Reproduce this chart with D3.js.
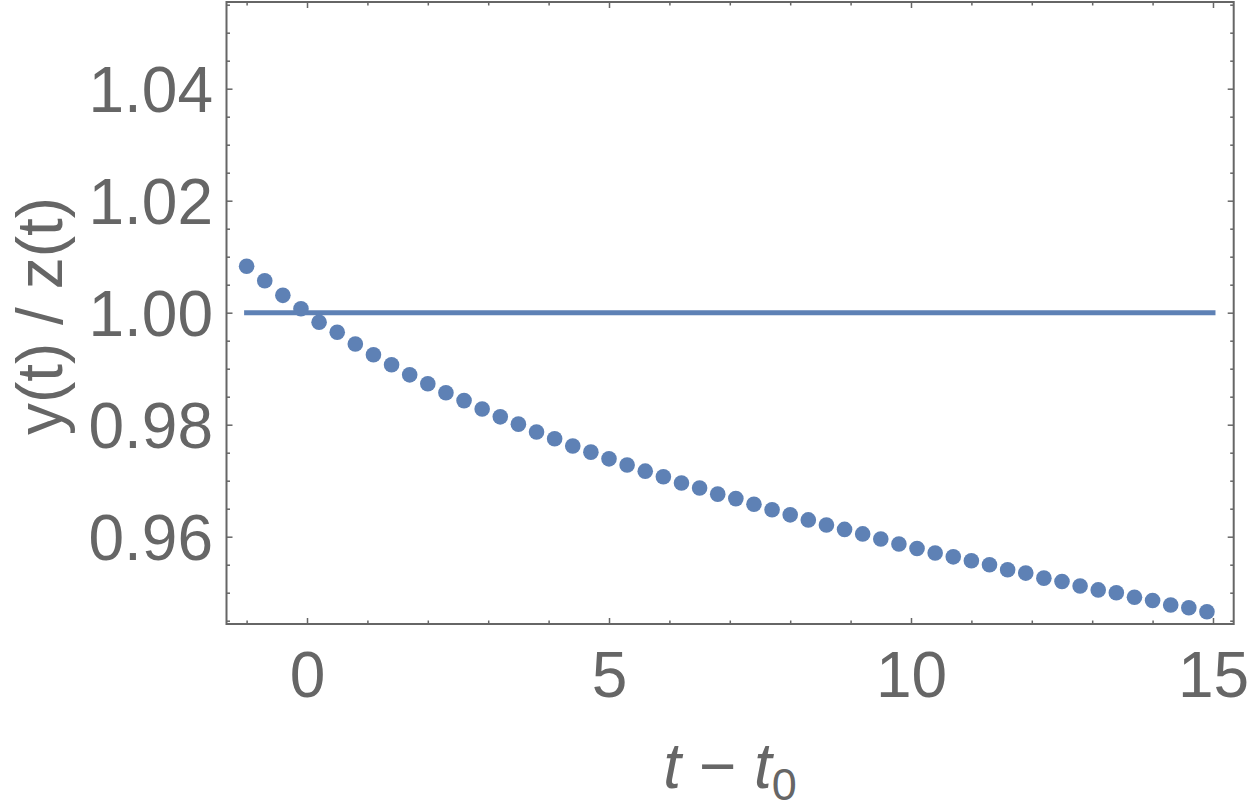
<!DOCTYPE html>
<html>
<head>
<meta charset="UTF-8">
<title>y(t) / z(t)</title>
<style>
  html, body { margin: 0; padding: 0; background: #ffffff; }
  #canvas { width: 1250px; height: 809px; }
  text { font-family: "Liberation Sans", Arial, sans-serif; fill: #666666; }
  .tick line { stroke: #666666; }
</style>
<script src="https://cdn.jsdelivr.net/npm/d3@7"></script>
</head>
<body>
<div id="canvas"></div>
<script>
// sample times (t - t0)
var tValues = [
  -1.0, -0.7, -0.4, -0.1, 0.2, 0.5, 0.8, 1.1, 1.4, 1.7,
  2.0, 2.3, 2.6, 2.9, 3.2, 3.5, 3.8, 4.1, 4.4, 4.7,
  5.0, 5.3, 5.6, 5.9, 6.2, 6.5, 6.8, 7.1, 7.4, 7.7,
  8.0, 8.3, 8.6, 8.9, 9.2, 9.5, 9.8, 10.1, 10.4, 10.7,
  11.0, 11.3, 11.6, 11.9, 12.2, 12.5, 12.8, 13.1, 13.4, 13.7,
  14.0, 14.3, 14.6, 14.9
];

// ratio y(t)/z(t)
var ratioValues = [
  1.0083, 1.0057, 1.0031, 1.0007, 0.9983, 0.9965, 0.9944, 0.9925, 0.9907, 0.9889,
  0.9873, 0.9857, 0.9843, 0.9828, 0.9814, 0.9801, 0.9787, 0.9775, 0.9762, 0.9751,
  0.9739, 0.9728, 0.9717, 0.9707, 0.9696, 0.9687, 0.9676, 0.9668, 0.9658, 0.9648,
  0.9639, 0.9630, 0.9621, 0.9613, 0.9605, 0.9596, 0.9587, 0.9579, 0.9571, 0.9564,
  0.9557, 0.9550, 0.9541, 0.9535, 0.9526, 0.9520, 0.9512, 0.9505, 0.9500, 0.9492,
  0.9486, 0.9478, 0.9473, 0.9466
];

// reference line y(t)/z(t) = 1
var refT = [-1, 15];
var refValue = 1.0;

// ticks
var xMajorTicks = [0, 5, 10, 15];
var xMinorTicks = [-1, 1, 2, 3, 4, 6, 7, 8, 9, 11, 12, 13, 14];
var yMajorTicks = [0.96, 0.98, 1.00, 1.02, 1.04];
var yTickLabels = ["0.96", "0.98", "1.00", "1.02", "1.04"];
var yMinorTicks = [0.945, 0.95, 0.955, 0.965, 0.97, 0.975, 0.985, 0.99, 0.995,
                   1.005, 1.01, 1.015, 1.025, 1.03, 1.035, 1.045, 1.05, 1.055];

var xLabel = "t − t";
var yLabel = "y(t) / z(t)";

var width = 1250, height = 809;
var frame = {left: 226.5, right: 1233.7, top: 2, bottom: 624};
var color = "#5e81b5";
var gray = "#666666";

var x = d3.scaleLinear().domain([-1.333, 15.343]).range([frame.left, frame.right]);
var y = d3.scaleLinear().domain([0.94441, 1.05548]).range([frame.bottom, frame.top]);

var svg = d3.select("#canvas").append("svg")
  .attr("width", width)
  .attr("height", height);

// axes (ticks point inward)
function cleanAxis(g) {
  g.select(".domain").remove();
  g.selectAll(".tick line").attr("stroke", gray).attr("stroke-width", 1.5);
}

var fontSize = 64;

svg.append("g")
  .attr("transform", "translate(0," + frame.bottom + ")")
  .call(d3.axisBottom(x).tickValues(xMajorTicks).tickSizeInner(-6).tickSizeOuter(0)
    .tickPadding(27.5).tickFormat(d3.format("d")))
  .call(cleanAxis)
  .selectAll("text").attr("font-size", fontSize).attr("fill", gray)
  .attr("font-family", "Liberation Sans, Arial, sans-serif");

svg.append("g")
  .attr("transform", "translate(0," + frame.bottom + ")")
  .call(d3.axisBottom(x).tickValues(xMinorTicks).tickSizeInner(-3.5).tickSizeOuter(0).tickFormat(""))
  .call(cleanAxis);

svg.append("g")
  .attr("transform", "translate(0," + frame.top + ")")
  .call(d3.axisTop(x).tickValues(xMajorTicks).tickSizeInner(-6).tickSizeOuter(0).tickFormat(""))
  .call(cleanAxis);

svg.append("g")
  .attr("transform", "translate(0," + frame.top + ")")
  .call(d3.axisTop(x).tickValues(xMinorTicks).tickSizeInner(-3.5).tickSizeOuter(0).tickFormat(""))
  .call(cleanAxis);

svg.append("g")
  .attr("transform", "translate(" + frame.left + ",0)")
  .call(d3.axisLeft(y).tickValues(yMajorTicks).tickSizeInner(-6).tickSizeOuter(0)
    .tickPadding(13.5).tickFormat(function(d, i) { return yTickLabels[i]; }))
  .call(cleanAxis)
  .selectAll("text").attr("font-size", fontSize).attr("fill", gray).attr("dy", "0.36em")
  .attr("font-family", "Liberation Sans, Arial, sans-serif");

svg.append("g")
  .attr("transform", "translate(" + frame.left + ",0)")
  .call(d3.axisLeft(y).tickValues(yMinorTicks).tickSizeInner(-3.5).tickSizeOuter(0).tickFormat(""))
  .call(cleanAxis);

svg.append("g")
  .attr("transform", "translate(" + frame.right + ",0)")
  .call(d3.axisRight(y).tickValues(yMajorTicks).tickSizeInner(-6).tickSizeOuter(0).tickFormat(""))
  .call(cleanAxis);

svg.append("g")
  .attr("transform", "translate(" + frame.right + ",0)")
  .call(d3.axisRight(y).tickValues(yMinorTicks).tickSizeInner(-3.5).tickSizeOuter(0).tickFormat(""))
  .call(cleanAxis);

// frame
svg.append("rect")
  .attr("x", frame.left)
  .attr("y", frame.top)
  .attr("width", frame.right - frame.left)
  .attr("height", frame.bottom - frame.top)
  .attr("fill", "none")
  .attr("stroke", gray)
  .attr("stroke-width", 2);

// reference line
svg.append("path")
  .datum(refT)
  .attr("fill", "none")
  .attr("stroke", color)
  .attr("stroke-width", 5)
  .attr("stroke-linecap", "square")
  .attr("d", d3.line().x(function(d) { return x(d); }).y(function() { return y(refValue); }));

// points
svg.selectAll(".pt")
  .data(tValues)
  .enter().append("circle")
  .attr("class", "pt")
  .attr("cx", function(d) { return x(d); })
  .attr("cy", function(d, i) { return y(ratioValues[i]); })
  .attr("r", 7.8)
  .attr("fill", color);

// axis titles
var xt = svg.append("text")
  .attr("x", (frame.left + frame.right) / 2)
  .attr("y", 788)
  .attr("text-anchor", "middle")
  .attr("font-size", fontSize);
xt.append("tspan").attr("font-style", "italic").text("t");
xt.append("tspan").text(" − ");
xt.append("tspan").attr("font-style", "italic").text("t");
xt.append("tspan").attr("font-size", 45).attr("dy", 12).text("0");

svg.append("text")
  .attr("transform", "translate(62," + 316 + ") rotate(-90)")
  .attr("text-anchor", "middle")
  .attr("font-size", fontSize)
  .text(yLabel);
</script>
</body>
</html>
